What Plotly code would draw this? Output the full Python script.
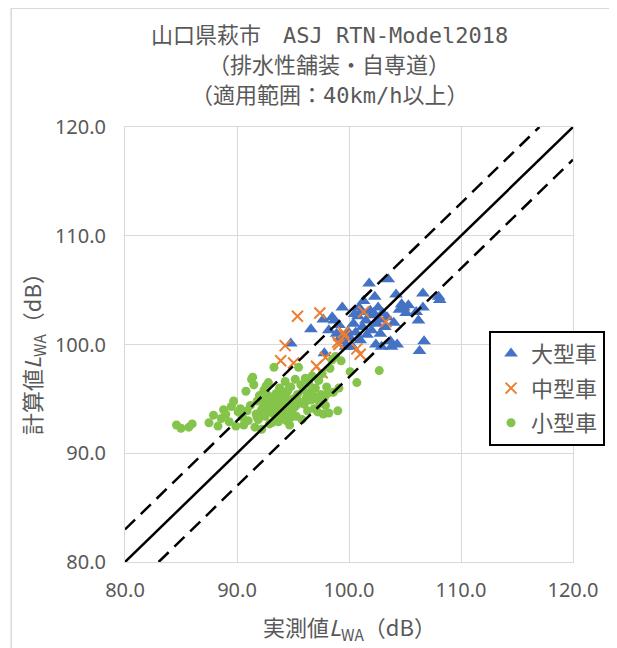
import plotly.graph_objects as go

# ---- data ----
large_x = [94.8, 96.6, 97.8, 97.7, 98.2, 98.5, 98.7, 98.9, 99.1, 99.4, 99.5, 99.7, 99.9, 100.1,
           100.3, 100.4, 100.6, 100.8, 100.9, 101.0, 101.2, 101.3, 101.5, 101.6, 101.8, 101.9,
           102.0, 102.1, 102.3, 102.4, 102.5, 102.6, 102.7, 102.8, 102.9, 103.0, 103.2, 103.4,
           103.5, 103.7, 103.8, 104.0, 104.2, 104.3, 104.5, 104.7, 104.9, 105.1, 105.3, 106.0,
           106.2, 106.3, 106.6, 106.6, 106.7, 108.0, 108.1, 99.2, 99.8, 100.5, 101.1, 102.2]
large_y = [100.1, 101.4, 99.2, 102.3, 101.3, 102.5, 102.2, 101.0, 101.8, 103.4, 100.3, 99.8, 101.2, 100.6,
           99.8, 101.9, 101.1, 102.6, 103.4, 100.4, 101.6, 104.0, 102.2, 100.9, 105.6, 103.1,
           101.3, 102.7, 104.4, 100.0, 101.9, 103.4, 102.3, 101.0, 99.8, 102.9, 101.6, 102.5,
           106.0, 100.3, 99.8, 102.0, 104.6, 100.0, 103.2, 103.7, 103.4, 102.9, 103.6, 103.0,
           102.2, 99.4, 104.7, 103.4, 100.3, 104.4, 104.1, 100.6, 100.9, 102.8, 103.0, 102.9]

medium_x = [95.4, 97.4, 101.3, 103.3, 99.5, 99.1, 100.7, 101.0, 94.3, 95.05, 97.1, 93.9, 97.9, 97.6, 99.0, 99.6]
medium_y = [102.6, 102.9, 103.0, 102.1, 101.1, 100.0, 99.6, 99.1, 99.9, 98.3, 98.0, 98.5, 98.8, 97.4, 100.2, 100.8]

small_x = [84.6, 85.0, 85.7, 86.0, 87.5, 87.9, 88.3, 88.6, 88.8, 89.0, 89.3, 89.5, 89.7, 89.9,
           90.1, 90.3, 90.5, 90.6, 90.8, 90.9, 91.0, 91.2, 91.3, 91.4, 91.5, 91.6, 91.7, 91.8,
           91.9, 92.0, 92.1, 92.2, 92.3, 92.4, 92.5, 92.6, 92.7, 92.8, 92.9, 93.0, 93.1, 93.2,
           93.3, 93.4, 93.5, 93.6, 93.7, 93.8, 93.9, 94.0, 94.1, 94.2, 94.3, 94.4, 94.5, 94.6,
           94.7, 94.8, 94.9, 95.0, 95.1, 95.2, 95.3, 95.4, 95.5, 95.6, 95.7, 95.8, 95.9, 96.0,
           96.1, 96.2, 96.3, 96.4, 96.5, 96.6, 96.7, 96.8, 96.9, 97.0, 97.1, 97.2, 97.3, 97.4,
           97.5, 97.6, 97.7, 97.8, 97.9, 98.0, 98.1, 98.2, 98.3, 98.5, 98.6, 98.8, 99.0, 99.1,
           99.3, 100.1, 100.7, 102.7, 92.4, 92.8, 93.2, 93.6, 94.0, 94.4, 94.8, 92.6, 93.0,
           93.4, 93.8, 94.2, 94.6, 95.0, 92.2, 91.8, 93.9, 94.3, 95.3, 96.2, 93.1, 92.5]
small_y = [92.6, 92.3, 92.4, 92.7, 92.8, 93.5, 92.5, 93.2, 94.0, 93.6, 92.9, 94.3, 94.8, 92.5,
           93.8, 94.1, 93.3, 92.6, 95.7, 93.9, 93.0, 94.4, 96.8, 97.0, 96.3, 92.4, 93.6, 94.8,
           93.1, 95.3, 93.8, 92.2, 94.2, 95.8, 93.4, 96.2, 94.6, 96.5, 92.7, 93.9, 95.0, 94.3,
           97.9, 93.2, 95.5, 94.0, 92.9, 96.0, 94.7, 93.5, 95.2, 94.1, 96.6, 93.0, 95.7, 94.4,
           92.6, 96.1, 93.8, 95.0, 94.2, 96.8, 93.4, 95.4, 97.9, 94.7, 96.3, 93.1, 95.8, 94.5,
           96.9, 95.1, 93.9, 96.4, 95.6, 94.9, 97.1, 95.3, 94.1, 96.0, 95.0, 93.8, 96.7, 94.6,
           95.4, 97.3, 93.6, 95.1, 94.4, 96.1, 95.5, 93.7, 97.8, 98.6, 95.6, 98.9, 93.9, 96.0,
           98.5, 97.5, 96.5, 97.6, 94.9, 95.3, 93.7, 94.6, 95.6, 94.9, 93.3, 93.9, 94.3,
           94.8, 95.1, 93.6, 95.9, 94.7, 94.0, 93.3, 94.5, 95.3, 94.4, 95.0, 92.8, 94.1]

series_names = ["大型車", "中型車", "小型車"]
axis_range = [80, 120]
tick_vals = [80, 90, 100, 110, 120]
offset = 3.0

title_lines = ["山口県萩市\u3000ASJ RTN-Model2018", "（排水性舗装・自専道）", "（適用範囲：40km/h以上）"]
x_title = "実測値<i>L</i><sub>WA</sub>（dB）"
y_title = "計算値<i>L</i><sub>WA</sub>（dB）"

GRAY = "#595959"
GRID = "#d9d9d9"

fig = go.Figure()
fig.add_trace(go.Scatter(x=large_x, y=large_y, mode="markers", name=series_names[0],
                         legendgroup="a",
                         marker=dict(symbol="triangle-up", size=12, color="#4472C4")))
fig.add_trace(go.Scatter(x=medium_x, y=medium_y, mode="markers", name=series_names[1],
                         legendgroup="b",
                         marker=dict(symbol="x-thin", size=11, color="#ED7D31",
                                     line=dict(width=2, color="#ED7D31"))))
fig.add_trace(go.Scatter(x=small_x, y=small_y, mode="markers", name=series_names[2],
                         legendgroup="c",
                         marker=dict(symbol="circle", size=9, color="#84C44A")))

lo, hi = axis_range
fig.add_trace(go.Scatter(x=[lo, hi], y=[lo, hi], mode="lines", showlegend=False,
                         line=dict(color="black", width=2.5), hoverinfo="skip"))
fig.add_trace(go.Scatter(x=[lo, hi - offset], y=[lo + offset, hi], mode="lines", showlegend=False,
                         line=dict(color="black", width=2.5, dash="14px,8px"), hoverinfo="skip"))
fig.add_trace(go.Scatter(x=[lo + offset, hi], y=[lo, hi - offset], mode="lines", showlegend=False,
                         line=dict(color="black", width=2.5, dash="14px,8px"), hoverinfo="skip"))

axis_common = dict(range=axis_range, tickvals=tick_vals, tickformat=".1f",
                   showgrid=True, gridcolor=GRID, gridwidth=1,
                   showline=True, linecolor=GRID, linewidth=1, mirror=True,
                   zeroline=False, ticks="", automargin=False,
                   tickfont=dict(family="Noto Sans", size=20, color=GRAY))
fig.update_xaxes(**axis_common, ticklabelstandoff=10)
fig.update_yaxes(**axis_common, ticklabelstandoff=14)

annotations = []
for txt, yp in zip(title_lines, [1.2113, 1.1424, 1.0735]):
    annotations.append(dict(text=txt, x=0.4557, y=yp, xref="paper", yref="paper",
                            xanchor="center", yanchor="middle", showarrow=False,
                            font=dict(family="DejaVu Sans Mono, Noto Sans CJK JP", size=22, color=GRAY)))
annotations.append(dict(text=x_title, x=0.5, y=-0.151, xref="paper", yref="paper",
                        xanchor="center", yanchor="middle", showarrow=False,
                        font=dict(family="Noto Sans CJK JP", size=22, color=GRAY)))
annotations.append(dict(text=y_title, x=-0.205, y=0.49, xref="paper", yref="paper",
                        xanchor="center", yanchor="middle", showarrow=False, textangle=-90,
                        font=dict(family="Noto Sans CJK JP", size=22, color=GRAY)))

fig.update_layout(
    width=609, height=640,
    margin=dict(l=117.5, r=40.5, t=119, b=85.5),
    paper_bgcolor="white", plot_bgcolor="white",
    showlegend=True,
    legend=dict(x=0.8126, y=0.5316, xanchor="left", yanchor="top",
                bgcolor="white", bordercolor="black", borderwidth=2,
                font=dict(family="Noto Sans CJK JP", size=22, color=GRAY),
                tracegroupgap=3, itemwidth=30),
    annotations=annotations,
    shapes=[dict(type="rect", xref="paper", yref="paper",
                 x0=-0.254, x1=1.2, y0=-0.3, y1=1.273,
                 line=dict(color=GRID, width=1.5), fillcolor="rgba(0,0,0,0)", layer="below")],
)

fig.write_html("out.html")
